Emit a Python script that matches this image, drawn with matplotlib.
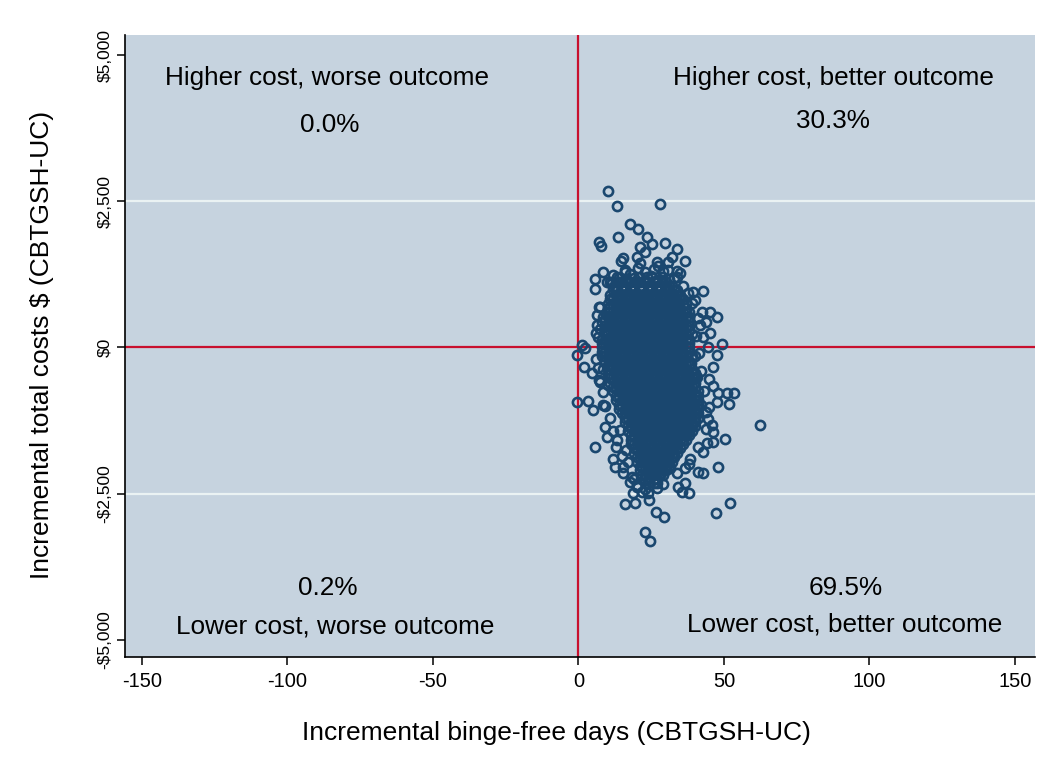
import matplotlib
matplotlib.use("Agg")
import matplotlib.pyplot as plt

plt.rcParams['font.family'] = ['Liberation Sans', 'DejaVu Sans']

# ---- scattered (individually visible) simulation points: days, dollars ----
fringe_x = [10.1, 13.2, 28.0, 17.7, 20.4, 13.6, 7.0, 7.7, 23.5, 25.3, 29.7, 21.1, 22.9,
            15.3, 14.6, 20.1, 21.1, 20.4, 27.0, 27.3, 8.4, 5.7, 5.7, 16.0, 17.7, 21.1,
            33.8, 32.1, 36.6, 30.8, 30.8, 33.8, 34.9, 28.7, 37.6, 39.3, 42.8, 42.4, 45.2,
            47.6, 43.8, 45.2, 49.3, 6.4, 6.4, 6.7, 1.2, 2.2, -0.5, 1.9, 4.6, 6.7, 8.4,
            -0.5, 3.3, 5.0, 8.4, 9.1, 9.8, 5.7, 11.9, 14.3, 13.2, 12.5, 15.3, 18.4, 17.7,
            20.1, 18.7, 21.8, 22.9, 24.2, 16.0, 19.4, 26.6, 29.4, 22.9, 24.6, 31.4, 33.8,
            36.6, 41.1, 42.8, 36.6, 34.2, 35.6, 38.0, 47.9, 52.1, 47.2, 62.4, 50.3, 46.2,
            44.2, 42.8, 46.2, 47.6, 38.7, 44.8, 40.7, 46.2, 47.9, 51.0, 53.4, 47.6, 44.8,
            51.7, 45.9, 46.2, 44.5, 8.4, 7.4, 10.1, 9.8, 11.5, 8.4, 8.1, 7.4, 9.8, 24.6,
            27.0, 26.3, 28.0, 13.2, 23.5, 27.0, 10.8, 11.9, 42.8, 44.5, 41.8, 7.4, 15.3,
            39.0, 40.5, 12.0, 33.0, 36.0, 41.5, 40.0, 16.5, 19.0, 38.5, 8.0, 9.5,
            12.0, 16.0, 19.0, 23.0, 25.0, 29.0, 31.0, 34.0, 26.0, 14.0,
            7.0, 6.0, 6.0, 7.0, 9.0, 11.0, 13.0, 15.0, 17.0,
            40.0, 41.0, 40.0, 42.0, 43.0, 44.0, 44.0, 41.0, 38.0,
            20.0, 27.0, 29.0, 24.0]
fringe_y = [2675, 2419, 2453, 2111, 2026, 1889, 1803, 1735, 1889, 1769, 1786, 1718, 1632,
            1530, 1479, 1547, 1444, 1359, 1462, 1393, 1291, 1171, 1000, 1291, 1256, 1205,
            1684, 1547, 1479, 1462, 1325, 1308, 1274, 1205, 932, 949, 966, 607, 607,
            521, 436, 248, 60, 556, 385, 179, 43, -9, -128, -333, -436, -350, -368,
            -932, -915, -1068, -983, -1359, -1530, -1701, -1427, -1410, -1581, -2043, -2145, -2214, -2299,
            -2350, -2487, -2470, -2419, -2607, -2675, -2658, -2812, -2897, -3154, -3308, -2060, -2145,
            -2060, -2128, -2145, -2316, -2385, -2470, -2487, -2043, -2658, -2829, -1325, -1564, -1615,
            -1632, -1786, -333, -128, -265, -538, -504, -658, -778, -778, -778, -932, -1017,
            -966, -1325, -1444, -1222, -761, -590, -641, 1120, 1103, 521, 436, 316, 265, -2231,
            -2316, -2145, -2145, 1205, 1205, 1154, 1120, 1034, 179, 0, 385, 684, -2043,
            760, 200, -1900, 1180, 1050, -100, -430, -1750, -2250, -1900, -150, 120,
            1240, 1330, 1180, 1290, 1230, 1300, 1170, 1200, 1350, 1180,
            700, 240, -200, -560, -1000, -1200, -1700, -1850, -1950,
            820, 500, -150, -400, -750, -1100, -1400, -1700, -2000,
            -2380, -2400, -2330, -2480]

# ---- dense core of the cloud: one list of days per cost level ----
core_y = [1125, 1050, 975, 900, 825, 750, 675, 600, 525, 450, 375, 300, 225, 150, 75, 0,
          -75, -150, -225, -300, -375, -450, -525, -600, -675, -750, -825, -900, -975,
          -1050, -1125, -1200, -1275, -1350, -1425, -1500, -1575, -1650, -1725, -1800,
          -1875, -1950, -2025, -2100, -2175, -2250, -2325]
core_x = [
    [14, 15, 17, 18, 20, 21, 23, 24, 26, 27, 29, 30],
    [13, 15, 16, 18, 19, 21, 22, 24, 25, 27, 28, 30, 31, 32],
    [12, 13, 15, 16, 18, 19, 21, 22, 24, 25, 27, 28, 30, 31, 33, 34],
    [11, 13, 14, 16, 17, 19, 20, 22, 23, 25, 26, 28, 29, 31, 32, 34, 35],
    [11, 12, 14, 15, 17, 18, 20, 21, 23, 24, 26, 27, 29, 30, 32, 33, 35, 36],
    [10, 12, 13, 15, 16, 18, 19, 21, 22, 24, 25, 27, 28, 30, 31, 33, 34, 36, 37],
    [10, 11, 13, 14, 16, 17, 19, 20, 22, 23, 25, 26, 28, 29, 31, 32, 34, 35, 37],
    [10, 12, 13, 15, 16, 18, 19, 21, 22, 24, 25, 27, 28, 30, 31, 33, 34, 36, 37, 38],
    [10, 11, 13, 14, 16, 17, 19, 20, 22, 23, 25, 26, 28, 29, 31, 32, 34, 35, 37, 38],
    [9, 11, 12, 14, 15, 17, 18, 20, 21, 23, 24, 26, 27, 29, 30, 32, 33, 35, 36, 38],
    [9, 10, 12, 13, 15, 16, 18, 19, 21, 22, 24, 25, 27, 28, 30, 31, 33, 34, 36, 37, 38],
    [9, 11, 12, 14, 15, 17, 18, 20, 21, 23, 24, 26, 27, 29, 30, 32, 33, 35, 36, 38],
    [9, 10, 12, 13, 15, 16, 18, 19, 21, 22, 24, 25, 27, 28, 30, 31, 33, 34, 36, 37, 39],
    [8, 10, 11, 13, 14, 16, 17, 19, 20, 22, 23, 25, 26, 28, 29, 31, 32, 34, 35, 37, 38],
    [8, 9, 11, 12, 14, 15, 17, 18, 20, 21, 23, 24, 26, 27, 29, 30, 32, 33, 35, 36, 38],
    [8, 10, 11, 13, 14, 16, 17, 19, 20, 22, 23, 25, 26, 28, 29, 31, 32, 34, 35, 37, 38],
    [8, 9, 11, 12, 14, 15, 17, 18, 20, 21, 23, 24, 26, 27, 29, 30, 32, 33, 35, 36, 38],
    [9, 10, 12, 13, 15, 16, 18, 19, 21, 22, 24, 25, 27, 28, 30, 31, 33, 34, 36, 37, 39],
    [9, 11, 12, 14, 15, 17, 18, 20, 21, 23, 24, 26, 27, 29, 30, 32, 33, 35, 36, 38],
    [10, 11, 13, 14, 16, 17, 19, 20, 22, 23, 25, 26, 28, 29, 31, 32, 34, 35, 37, 38],
    [10, 12, 13, 15, 16, 18, 19, 21, 22, 24, 25, 27, 28, 30, 31, 33, 34, 36, 37, 39],
    [10, 11, 13, 14, 16, 17, 19, 20, 22, 23, 25, 26, 28, 29, 31, 32, 34, 35, 37, 38, 40],
    [11, 12, 14, 15, 17, 18, 20, 21, 23, 24, 26, 27, 29, 30, 32, 33, 35, 36, 38, 39, 40],
    [11, 13, 14, 16, 17, 19, 20, 22, 23, 25, 26, 28, 29, 31, 32, 34, 35, 37, 38, 40],
    [12, 13, 15, 16, 18, 19, 21, 22, 24, 25, 27, 28, 30, 31, 33, 34, 36, 37, 39, 40],
    [12, 14, 15, 17, 18, 20, 21, 23, 24, 26, 27, 29, 30, 32, 33, 35, 36, 38, 39, 41],
    [13, 14, 16, 17, 19, 20, 22, 23, 25, 26, 28, 29, 31, 32, 34, 35, 37, 38, 40, 41],
    [13, 15, 16, 18, 19, 21, 22, 24, 25, 27, 28, 30, 31, 33, 34, 36, 37, 39, 40, 41],
    [14, 15, 17, 18, 20, 21, 23, 24, 26, 27, 29, 30, 32, 33, 35, 36, 38, 39, 41, 42],
    [14, 16, 17, 19, 20, 22, 23, 25, 26, 28, 29, 31, 32, 34, 35, 37, 38, 40, 41],
    [15, 16, 18, 19, 21, 22, 24, 25, 27, 28, 30, 31, 33, 34, 36, 37, 39, 40, 41],
    [16, 17, 19, 20, 22, 23, 25, 26, 28, 29, 31, 32, 34, 35, 37, 38, 40, 41],
    [16, 18, 19, 21, 22, 24, 25, 27, 28, 30, 31, 33, 34, 36, 37, 39, 40],
    [17, 18, 20, 21, 23, 24, 26, 27, 29, 30, 32, 33, 35, 36, 38, 39, 40],
    [17, 19, 20, 22, 23, 25, 26, 28, 29, 31, 32, 34, 35, 37, 38, 39],
    [18, 19, 21, 22, 24, 25, 27, 28, 30, 31, 33, 34, 36, 37, 38],
    [18, 20, 21, 23, 24, 26, 27, 29, 30, 32, 33, 35, 36, 37],
    [18, 19, 21, 22, 24, 25, 27, 28, 30, 31, 33, 34, 36],
    [19, 20, 22, 23, 25, 26, 28, 29, 31, 32, 34, 35],
    [19, 21, 22, 24, 25, 27, 28, 30, 31, 33, 34],
    [20, 21, 23, 24, 26, 27, 29, 30, 32, 33],
    [20, 22, 23, 25, 26, 28, 29, 31, 32],
    [21, 22, 24, 25, 27, 28, 30, 31],
    [21, 23, 24, 26, 27, 29, 30],
    [22, 23, 25, 26, 28, 29],
    [23, 24, 26, 27],
    [24, 26],
]

x_ticks = [-150, -100, -50, 0, 50, 100, 150]
y_ticks = [-5000, -2500, 0, 2500, 5000]
y_tick_labels = ['-$5,000', '-$2,500', '$0', '$2,500', '$5,000']

quad_labels = ['Higher cost, worse outcome', 'Higher cost, better outcome',
               'Lower cost, worse outcome', 'Lower cost, better outcome']
quad_pcts = ['0.0%', '30.3%', '0.2%', '69.5%']

# ---- build point lists ----
xs = list(fringe_x)
ys = list(fringe_y)
for yv, row in zip(core_y, core_x):
    for xv in row:
        xs.append(xv)
        ys.append(yv)

fig = plt.figure(figsize=(10.5, 7.66), dpi=100)
ax = fig.add_axes([125/1050, 1 - 657/766, 910/1050, 622/766])
ax.set_facecolor('#c6d3df')
ax.set_xlim(-155.8, 156.9)
ax.set_ylim(-5291, 5342)

for s in ['top', 'right']:
    ax.spines[s].set_visible(False)
for s in ['left', 'bottom']:
    ax.spines[s].set_color('black')
    ax.spines[s].set_linewidth(1.2)

for g in [-2500, 2500]:
    ax.axhline(g, color='#eaf2f3', lw=1.6, zorder=1)
ax.axhline(0, color='#c8102e', lw=1.6, zorder=2)
ax.axvline(0, color='#c8102e', lw=1.6, zorder=2)

ax.plot(xs, ys, 'o', mfc='none', mec='#1a476f', ms=6.6, mew=1.9, zorder=3, linestyle='none')

ax.set_xticks(x_ticks)
ax.set_xticklabels([str(t) for t in x_ticks], fontsize=14.5)
ax.set_yticks(y_ticks)
ax.set_yticklabels(y_tick_labels, fontsize=12.5, rotation=90, va='center')
ax.tick_params(axis='both', direction='out', length=6, width=1.1, color='black')
ax.tick_params(axis='x', pad=5)
ax.tick_params(axis='y', pad=3)

fs = 18.8
ax.text(-86.3, 4609, quad_labels[0], ha='center', va='center', fontsize=fs)
ax.text(-85.6, 3807, quad_pcts[0], ha='center', va='center', fontsize=fs)
ax.text(87.7, 4600, quad_labels[1], ha='center', va='center', fontsize=fs)
ax.text(87.4, 3870, quad_pcts[1], ha='center', va='center', fontsize=fs)
ax.text(-86.0, -4114, quad_pcts[2], ha='center', va='center', fontsize=fs)
ax.text(-83.6, -4763, quad_labels[2], ha='center', va='center', fontsize=fs)
ax.text(91.8, -4114, quad_pcts[3], ha='center', va='center', fontsize=fs)
ax.text(91.5, -4729, quad_labels[3], ha='center', va='center', fontsize=fs)

fig.text(556/1050, 1 - 733/766, 'Incremental binge-free days (CBTGSH-UC)',
         ha='center', va='center', fontsize=19)
fig.text(42/1050, 1 - 345/766, 'Incremental total costs $ (CBTGSH-UC)',
         ha='center', va='center', fontsize=19, rotation=90)

fig.savefig('out.png', dpi=100, facecolor='white')
